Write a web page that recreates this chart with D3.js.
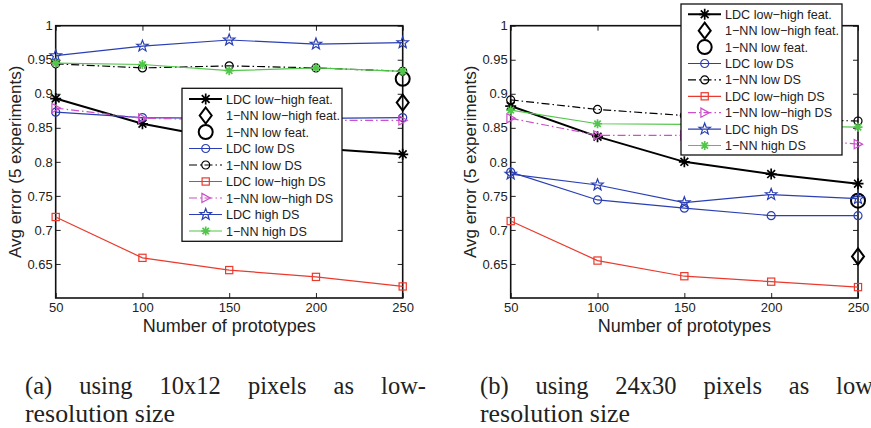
<!DOCTYPE html>
<html><head><meta charset="utf-8">
<script src="https://cdn.jsdelivr.net/npm/d3@7"></script>
<style>body{margin:0;background:#fff} svg{display:block}</style>
</head><body><svg id="c" width="871" height="428"></svg>
<script>
// ---------- DATA ----------
const prototypes = [50, 100, 150, 200, 250];
const xTickValues = [50, 100, 150, 200, 250];
const yTickValues = [0.65, 0.7, 0.75, 0.8, 0.85, 0.9, 0.95, 1];
const seriesNames = ["LDC low\u2212high feat.", "1\u2212NN low\u2212high feat.", "1\u2212NN low feat.",
  "LDC low DS", "1\u2212NN low DS", "LDC low\u2212high DS", "1\u2212NN low\u2212high DS", "LDC high DS", "1\u2212NN high DS"];

// panel (a): 10x12 pixels
const a_ldcLowHighFeat = [0.893, 0.856, 0.832, 0.820, 0.811];
const a_nnLowHighFeat  = [null, null, null, null, 0.887];
const a_nnLowFeat      = [null, null, null, null, 0.922];
const a_ldcLowDS       = [0.873, 0.865, 0.864, 0.864, 0.865];
const a_nnLowDS        = [0.944, 0.938, 0.941, 0.938, 0.933];
const a_ldcLowHighDS   = [0.719, 0.659, 0.641, 0.631, 0.617];
const a_nnLowHighDS    = [0.879, 0.864, 0.862, 0.861, 0.861];
const a_ldcHighDS      = [0.956, 0.970, 0.979, 0.973, 0.975];
const a_nnHighDS       = [0.945, 0.943, 0.934, 0.938, 0.933];

// panel (b): 24x30 pixels
const b_ldcLowHighFeat = [0.882, 0.837, 0.800, 0.782, 0.768];
const b_nnLowHighFeat  = [null, null, null, null, 0.661];
const b_nnLowFeat      = [null, null, null, null, 0.743];
const b_ldcLowDS       = [0.785, 0.744, 0.732, 0.721, 0.721];
const b_nnLowDS        = [0.891, 0.877, 0.868, 0.863, 0.860];
const b_ldcLowHighDS   = [0.713, 0.655, 0.632, 0.624, 0.616];
const b_nnLowHighDS    = [0.864, 0.839, 0.839, 0.837, 0.826];
const b_ldcHighDS      = [0.782, 0.766, 0.740, 0.752, 0.746];
const b_nnHighDS       = [0.876, 0.856, 0.855, 0.853, 0.851];

const captionA = ["(a)", "using", "10x12", "pixels", "as", "low-"];
const captionB = ["(b)", "using", "24x30", "pixels", "as", "low-"];
const captionLine2 = "resolution size";

// ---------- STYLES ----------
const BLUE = "#2a3fb3", RED = "#ea3a2e", MAG = "#cc4fcc", GREEN = "#52c64a";
const seriesColors  = ["#000", "#000", "#000", BLUE, "#000", RED, MAG, BLUE, GREEN];
const seriesMarkers = ["asterisk", "diamond", "bigcircle", "circle", "circle", "square", "triangle", "star", "asteriskG"];
const seriesDash    = [null, null, null, null, "8,3,1.5,3", null, "8,3,1.5,3", null, null];
const seriesWidth   = [2, 0, 0, 1.2, 1.2, 1.2, 1.2, 1.2, 1.2];

const svg = d3.select("#c");

function starPath(R, r) {
  const pts = [];
  for (let i = 0; i < 10; i++) {
    const ang = -Math.PI / 2 + i * Math.PI / 5;
    const rad = i % 2 ? r : R;
    pts.push([rad * Math.cos(ang), rad * Math.sin(ang)]);
  }
  return "M" + pts.map(p => p[0].toFixed(2) + "," + p[1].toFixed(2)).join("L") + "Z";
}

function drawMarker(g, type, color, x, y) {
  const m = g.append("g").attr("transform", `translate(${x},${y})`)
    .attr("fill", "none").attr("stroke", color);
  if (type === "asterisk") {
    m.append("path").attr("d", "M-5.5,0H5.5M0,-5.5V5.5M-3.9,-3.9L3.9,3.9M-3.9,3.9L3.9,-3.9").attr("stroke-width", 1.7);
  } else if (type === "asteriskG") {
    m.append("path").attr("d", "M-4.5,0H4.5M0,-4.5V4.5M-3.2,-3.2L3.2,3.2M-3.2,3.2L3.2,-3.2").attr("stroke-width", 1.7);
  } else if (type === "circle") {
    m.append("circle").attr("r", 4).attr("stroke-width", 1.2);
  } else if (type === "bigcircle") {
    m.append("circle").attr("r", 7).attr("stroke-width", 2);
  } else if (type === "diamond") {
    m.append("path").attr("d", "M0,-8L6,0L0,8L-6,0Z").attr("stroke-width", 2);
  } else if (type === "square") {
    m.append("rect").attr("x", -3.6).attr("y", -3.6).attr("width", 7.2).attr("height", 7.2).attr("stroke-width", 1.2);
  } else if (type === "triangle") {
    m.append("path").attr("d", "M-3.8,-4.6L4.6,0L-3.8,4.6Z").attr("stroke-width", 1.2);
  } else if (type === "star") {
    m.append("path").attr("d", starPath(6, 2.5)).attr("stroke-width", 1.2);
  }
}

function drawPanel(cfg) {
  const x = d3.scaleLinear().domain([50, 250]).range([cfg.x0, cfg.x1]);
  const y = d3.scaleLinear().domain([0.6, 1]).range([298, 25.7]);
  const g = svg.append("g");

  const tickFont = g => g.selectAll("text").attr("font-family", "Liberation Sans, Arial, sans-serif")
    .attr("font-size", 13).attr("fill", "#222");
  const clean = g => g.select(".domain").remove();
  g.append("g").attr("transform", `translate(${cfg.x0},0)`)
    .call(d3.axisLeft(y).tickValues(yTickValues).tickSize(-5).tickPadding(3).tickFormat(d => String(d)))
    .call(clean).call(tickFont);
  g.append("g").attr("transform", `translate(${cfg.x1},0)`)
    .call(d3.axisRight(y).tickValues(yTickValues).tickSize(-5).tickFormat(""))
    .call(clean);
  g.append("g").attr("transform", `translate(0,${y(0.6)})`)
    .call(d3.axisBottom(x).tickValues(xTickValues).tickSize(-5).tickPadding(5).tickFormat(d => String(d)))
    .call(clean).call(tickFont);
  g.append("g").attr("transform", `translate(0,${y(1)})`)
    .call(d3.axisTop(x).tickValues(xTickValues).tickSize(-5).tickFormat(""))
    .call(clean);
  g.selectAll(".tick line").attr("stroke", "#222").attr("stroke-width", 1);

  g.append("rect").attr("x", cfg.x0).attr("y", y(1))
    .attr("width", cfg.x1 - cfg.x0).attr("height", y(0.6) - y(1))
    .attr("fill", "none").attr("stroke", "#111").attr("stroke-width", 1.6);

  cfg.series.forEach((vals, i) => {
    const pts = prototypes.map((p, k) => ({ p, v: vals[k] })).filter(d => d.v != null);
    if (seriesWidth[i] > 0) {
      g.append("path").datum(pts)
        .attr("d", d3.line().x(d => x(d.p)).y(d => y(d.v)))
        .attr("fill", "none").attr("stroke", seriesColors[i]).attr("stroke-width", seriesWidth[i])
        .attr("stroke-dasharray", seriesDash[i]);
    }
    pts.forEach(d => drawMarker(g, seriesMarkers[i], seriesColors[i], x(d.p), y(d.v)));
  });

  g.append("text").attr("x", (cfg.x0 + cfg.x1) / 2).attr("y", 332).attr("text-anchor", "middle")
    .attr("font-family", "Liberation Sans, Arial, sans-serif").attr("font-size", 18).attr("fill", "#222")
    .text("Number of prototypes");
  g.append("text").attr("transform", `translate(${cfg.x0 - 34.7},${(y(0.6) + y(1)) / 2}) rotate(-90)`)
    .attr("text-anchor", "middle")
    .attr("font-family", "Liberation Sans, Arial, sans-serif").attr("font-size", 17).attr("fill", "#222")
    .text("Avg error (5 experiments)");

  const L = cfg.legend;
  const lg = g.append("g");
  lg.append("rect").attr("x", L.x).attr("y", L.y).attr("width", L.w).attr("height", L.h)
    .attr("fill", "#fff").attr("stroke", "#111").attr("stroke-width", 1.3);
  seriesNames.forEach((name, i) => {
    const ry = L.y + L.first + i * L.step;
    if (seriesWidth[i] > 0) {
      lg.append("line").attr("x1", L.x + 7).attr("x2", L.x + 40).attr("y1", ry).attr("y2", ry)
        .attr("stroke", seriesColors[i]).attr("stroke-width", seriesWidth[i])
        .attr("stroke-dasharray", seriesDash[i]);
    }
    drawMarker(lg, seriesMarkers[i], seriesColors[i], L.x + 23.7, ry);
    lg.append("text").attr("x", L.x + 44).attr("y", ry + 4.5)
      .attr("font-family", "Liberation Sans, Arial, sans-serif").attr("font-size", 12.6).attr("fill", "#222")
      .text(name);
  });

  const cg = g.append("g").attr("font-family", "Liberation Serif, Times New Roman, serif")
    .attr("font-size", 24.5).attr("fill", "#222");
  const words = cfg.caption.map(w => cg.append("text").attr("y", 394).text(w));
  const widths = words.map(t => t.node().getComputedTextLength());
  const total = 401;
  const gap = (total - d3.sum(widths)) / (words.length - 1);
  let cx = cfg.capX;
  words.forEach((t, k) => { t.attr("x", cx); cx += widths[k] + gap; });
  cg.append("text").attr("x", cfg.capX).attr("y", 422).attr("textLength", 150)
    .attr("lengthAdjust", "spacingAndGlyphs").text(captionLine2);
}

drawPanel({
  x0: 55.7, x1: 402.7, capX: 25, caption: captionA,
  legend: { x: 182, y: 88.3, w: 160, h: 153, first: 10.7, step: 16.5 },
  series: [a_ldcLowHighFeat, a_nnLowHighFeat, a_nnLowFeat, a_ldcLowDS, a_nnLowDS, a_ldcLowHighDS, a_nnLowHighDS, a_ldcHighDS, a_nnHighDS]
});
drawPanel({
  x0: 510.7, x1: 858, capX: 480, caption: captionB,
  legend: { x: 681, y: 4, w: 161, h: 151, first: 10.3, step: 16.4 },
  series: [b_ldcLowHighFeat, b_nnLowHighFeat, b_nnLowFeat, b_ldcLowDS, b_nnLowDS, b_ldcLowHighDS, b_nnLowHighDS, b_ldcHighDS, b_nnHighDS]
});
</script></body></html>
